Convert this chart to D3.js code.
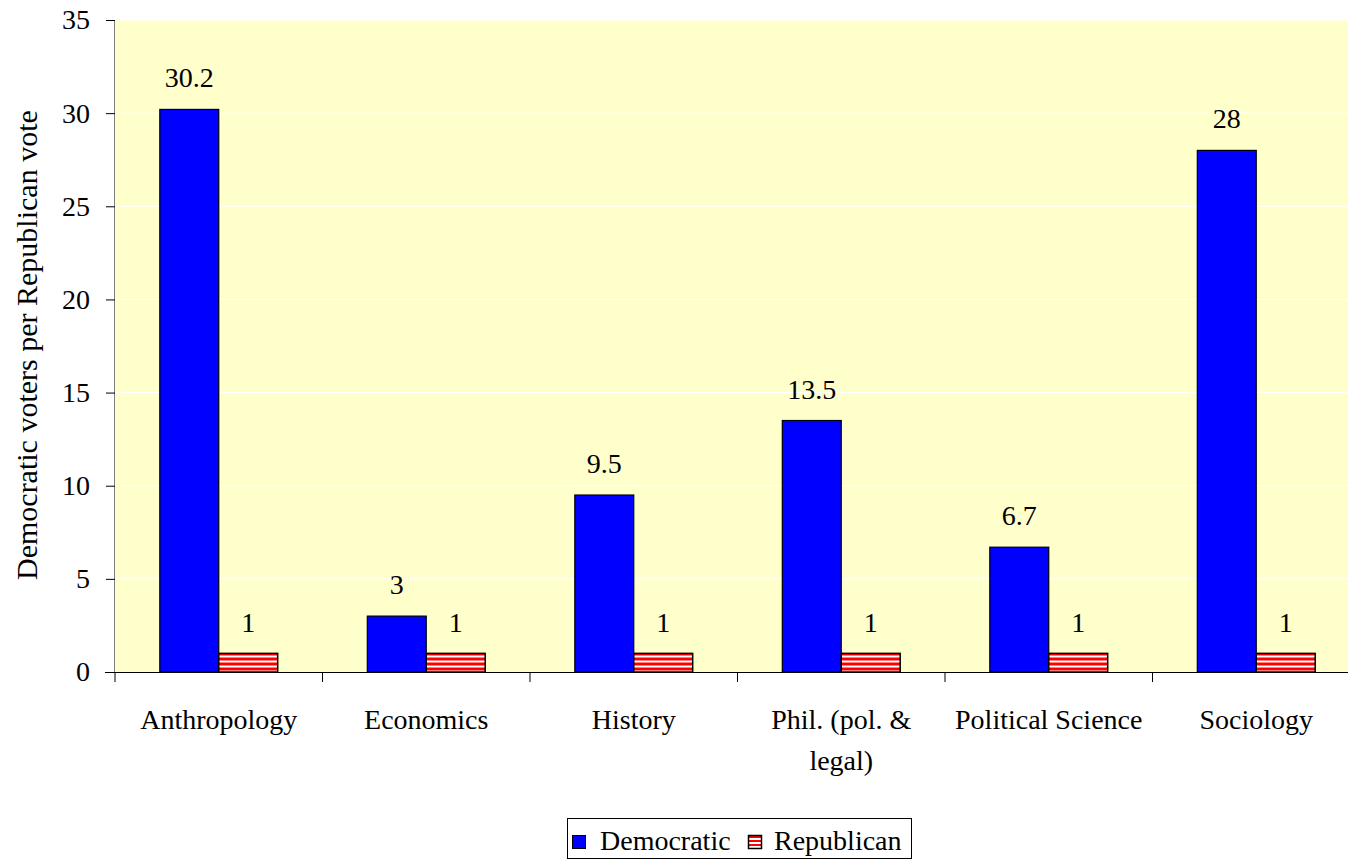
<!DOCTYPE html>
<html><head><meta charset="utf-8">
<script src="https://cdn.jsdelivr.net/npm/d3@7"></script>
<style>body{margin:0;background:#fff}svg{display:block}</style>
</head><body><svg id="c" width="1348" height="862"></svg>
<script>
const categories = ["Anthropology","Economics","History","Phil. (pol. & legal)","Political Science","Sociology"];
const categoryLines = [["Anthropology"],["Economics"],["History"],["Phil. (pol. &","legal)"],["Political Science"],["Sociology"]];
const democratic = [30.2,3,9.5,13.5,6.7,28];
const republican = [1,1,1,1,1,1];
const seriesNames = ["Democratic","Republican"];
const yTicks = [0,5,10,15,20,25,30,35];

const FONT = "'Liberation Serif','Times New Roman',Times,serif";
const svg = d3.select("#c").attr("font-family", FONT);
const m = {l:115, t:20, r:1360, b:672};
const x = d3.scaleBand().domain(categories).range([m.l, m.r]).paddingInner(0).paddingOuter(0);
const x1 = d3.scaleBand().domain(seriesNames).range([0, x.bandwidth()]).paddingOuter(0.76).paddingInner(0);
const y = d3.scaleLinear().domain([0,35]).range([m.b, m.t]);

const defs = svg.append("defs");
const pat = defs.append("pattern").attr("id","stripes").attr("patternUnits","userSpaceOnUse").attr("width",8).attr("height",5).attr("y", m.b);
pat.append("rect").attr("width",8).attr("height",5).attr("fill","#fff");
pat.append("rect").attr("y",0).attr("width",8).attr("height",1).attr("fill","#ff8080");
pat.append("rect").attr("y",1).attr("width",8).attr("height",2).attr("fill","#ff0000");
pat.append("rect").attr("y",3).attr("width",8).attr("height",1).attr("fill","#ff8080");
defs.append("clipPath").attr("id","ylabclip").append("rect").attr("x",0).attr("y",104).attr("width",60).attr("height",700);

svg.append("rect").attr("x",m.l).attr("y",m.t).attr("width",m.r-m.l).attr("height",m.b-m.t).attr("fill","#ffffcc");
svg.append("g").selectAll("line").data(yTicks.filter(d=>d>0)).join("line")
  .attr("x1",m.l).attr("x2",m.r).attr("y1",d=>y(d)).attr("y2",d=>y(d)).attr("stroke","#ffffff").attr("stroke-width",1);

// y axis
const ya = svg.append("g").attr("transform",`translate(${m.l},0)`)
  .call(d3.axisLeft(y).tickValues(yTicks).tickSize(9).tickPadding(16));
ya.attr("font-family", FONT);
ya.select(".domain").attr("stroke","#808080").attr("d",`M-0.5,${m.t}V${m.b}`);
ya.selectAll(".tick line").attr("stroke","#000");
ya.selectAll(".tick text").attr("font-size","28px").attr("fill","#000");

// bars
const g = svg.append("g").selectAll("g").data(categories).join("g").attr("transform",d=>`translate(${x(d)},0)`);
g.append("rect").attr("x",x1("Democratic")).attr("width",x1.bandwidth())
  .attr("y",(d,i)=>y(democratic[i])).attr("height",(d,i)=>y(0)-y(democratic[i]))
  .attr("fill","#0000ff").attr("stroke","#000").attr("stroke-width",1.2);
g.append("rect").attr("x",x1("Republican")).attr("width",x1.bandwidth())
  .attr("y",(d,i)=>y(republican[i])).attr("height",(d,i)=>y(0)-y(republican[i]))
  .attr("fill","url(#stripes)").attr("stroke","#000").attr("stroke-width",1.5);
g.append("text").attr("x",x1("Democratic")+x1.bandwidth()/2).attr("y",(d,i)=>y(democratic[i])-22)
  .attr("text-anchor","middle").attr("font-size","28px").text((d,i)=>democratic[i]);
g.append("text").attr("x",x1("Republican")+x1.bandwidth()/2).attr("y",(d,i)=>y(republican[i])-21)
  .attr("text-anchor","middle").attr("font-size","28px").text((d,i)=>republican[i]);

// x axis
const xa = svg.append("g").attr("transform",`translate(0,${m.b})`)
  .call(d3.axisBottom(x).tickSize(0).tickFormat(""));
xa.select(".domain").attr("stroke","#000").attr("d",`M${m.l-10},0.5H${m.r}`);
svg.append("g").selectAll("line").data(categories).join("line")
  .attr("x1",d=>x(d)).attr("x2",d=>x(d)).attr("y1",m.b).attr("y2",m.b+10).attr("stroke","#000");
const xl = svg.append("g").selectAll("text").data(categories).join("text")
  .attr("x",d=>x(d)+x.bandwidth()/2).attr("y",729).attr("text-anchor","middle").attr("font-size","28px");
xl.each(function(d,i){
  const t = d3.select(this);
  categoryLines[i].forEach((ln,j)=>t.append("tspan").attr("x",x(d)+x.bandwidth()/2).attr("dy",j?"41":"0").text(ln));
});

// y label
svg.append("g").attr("clip-path","url(#ylabclip)").append("text")
  .attr("transform","translate(37,580) rotate(-90)").attr("text-anchor","start").attr("font-size","30px")
  .text("Democratic voters per Republican vote");

// legend
const lp = defs.append("pattern").attr("id","lstripes").attr("patternUnits","userSpaceOnUse").attr("width",8).attr("height",4).attr("y",835);
lp.append("rect").attr("width",8).attr("height",4).attr("fill","#fff");
lp.append("rect").attr("y",1).attr("width",8).attr("height",2).attr("fill","#ff0000");
const lg = svg.append("g");
lg.append("rect").attr("x",567.5).attr("y",818.5).attr("width",344).attr("height",40).attr("fill","#fff").attr("stroke","#000");
lg.append("rect").attr("x",572.5).attr("y",835.5).attr("width",13).attr("height",13).attr("fill","#0000ff").attr("stroke","#000");
lg.append("text").attr("x",600).attr("y",850).attr("font-size","28px").text(seriesNames[0]);
lg.append("rect").attr("x",748.5).attr("y",835.5).attr("width",13).attr("height",13).attr("fill","url(#lstripes)").attr("stroke","#000").attr("stroke-width",1.5);
lg.append("text").attr("x",774).attr("y",850).attr("font-size","28px").text(seriesNames[1]);
</script></body></html>
